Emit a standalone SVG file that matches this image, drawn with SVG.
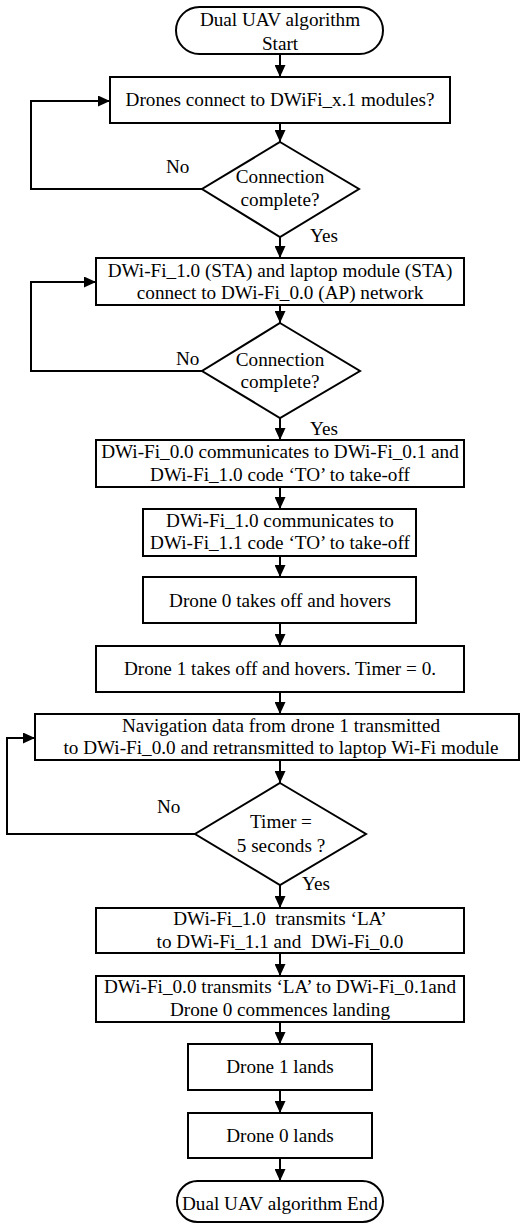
<svg xmlns="http://www.w3.org/2000/svg" width="520" height="1224" viewBox="0 0 520 1224">
<style>
.s{fill:#fff;stroke:#000;stroke-width:2}
.t{font-family:"Liberation Serif","Times New Roman",serif;font-size:19.2px;fill:#000;text-anchor:middle;white-space:pre}
.l{font-family:"Liberation Serif","Times New Roman",serif;font-size:19.2px;fill:#000}
.c{fill:none;stroke:#000;stroke-width:2}
</style>
<defs>
<marker id="ah" markerWidth="12" markerHeight="11" refX="12" refY="5.5" orient="auto" markerUnits="userSpaceOnUse"><path d="M0,0 L12,5.5 L0,11 z" fill="#000"/></marker>
</defs>
<g id="connectors">
<path class="c" marker-end="url(#ah)" d="M280,54 V77"/>
<path class="c" marker-end="url(#ah)" d="M280,123 V142"/>
<path class="c" marker-end="url(#ah)" d="M202,189 H31 V101 H110"/>
<path class="c" marker-end="url(#ah)" d="M280,237 V258"/>
<path class="c" marker-end="url(#ah)" d="M280,305 V323"/>
<path class="c" marker-end="url(#ah)" d="M202,371 H31 V282 H96"/>
<path class="c" marker-end="url(#ah)" d="M280,418 V440"/>
<path class="c" marker-end="url(#ah)" d="M280,487 V509"/>
<path class="c" marker-end="url(#ah)" d="M280,556 V577"/>
<path class="c" marker-end="url(#ah)" d="M280,623 V646"/>
<path class="c" marker-end="url(#ah)" d="M280,692 V714"/>
<path class="c" marker-end="url(#ah)" d="M280,760 V783"/>
<path class="c" marker-end="url(#ah)" d="M195,834 H7 V738 H35"/>
<path class="c" marker-end="url(#ah)" d="M280,885 V908"/>
<path class="c" marker-end="url(#ah)" d="M280,953 V976"/>
<path class="c" marker-end="url(#ah)" d="M280,1022 V1044"/>
<path class="c" marker-end="url(#ah)" d="M280,1090 V1113"/>
<path class="c" marker-end="url(#ah)" d="M280,1158 V1181"/>
<text class="l" x="166" y="173">No</text>
<text class="l" x="310" y="242">Yes</text>
<text class="l" x="176" y="365">No</text>
<text class="l" x="310" y="435">Yes</text>
<text class="l" x="157" y="813">No</text>
<text class="l" x="302" y="890">Yes</text>
</g>
<g id="start"><rect class="s" x="176" y="7" width="207" height="47" rx="23.5"/><text class="t" x="280" y="26">Dual UAV algorithm</text><text class="t" x="280" y="50">Start</text></g>
<g id="box1"><rect class="s" x="110" y="77" width="340" height="46"/><text class="t" x="280" y="106">Drones connect to DWiFi_x.1 modules?</text></g>
<g id="dec1"><polygon class="s" points="280,142 359,189 280,237 202,189"/><text class="t" x="280" y="183">Connection</text><text class="t" x="280" y="206">complete?</text></g>
<g id="box2"><rect class="s" x="96" y="258" width="368" height="47"/><text class="t" x="280" y="277">DWi-Fi_1.0 (STA) and laptop module (STA)</text><text class="t" x="280" y="299">connect to DWi-Fi_0.0 (AP) network</text></g>
<g id="dec2"><polygon class="s" points="280,323 360,371 280,418 202,371"/><text class="t" x="280" y="366">Connection</text><text class="t" x="280" y="388">complete?</text></g>
<g id="box3"><rect class="s" x="96" y="440" width="368" height="47"/><text class="t" x="280" y="458">DWi-Fi_0.0 communicates to DWi-Fi_0.1 and</text><text class="t" x="280" y="481">DWi-Fi_1.0 code ‘TO’ to take-off</text></g>
<g id="box4"><rect class="s" x="143" y="509" width="273" height="47"/><text class="t" x="280" y="527">DWi-Fi_1.0 communicates to</text><text class="t" x="280" y="549">DWi-Fi_1.1 code ‘TO’ to take-off</text></g>
<g id="box5"><rect class="s" x="143" y="577" width="273" height="46"/><text class="t" x="280" y="607">Drone 0 takes off and hovers</text></g>
<g id="box6"><rect class="s" x="96" y="646" width="368" height="46"/><text class="t" x="280" y="675">Drone 1 takes off and hovers. Timer = 0.</text></g>
<g id="box7"><rect class="s" x="35" y="714" width="484" height="46"/><text class="t" x="281" y="732">Navigation data from drone 1 transmitted</text><text class="t" x="281" y="754">to DWi-Fi_0.0 and retransmitted to laptop Wi-Fi module</text></g>
<g id="dec3"><polygon class="s" points="280,783 366,834 280,885 195,834"/><text class="t" x="281" y="828">Timer =</text><text class="t" x="281" y="852">5 seconds ?</text></g>
<g id="box8"><rect class="s" x="96" y="908" width="368" height="45"/><text class="t" x="280" y="925">DWi-Fi_1.0  transmits ‘LA’</text><text class="t" x="280" y="948">to DWi-Fi_1.1 and  DWi-Fi_0.0</text></g>
<g id="box9"><rect class="s" x="96" y="976" width="368" height="46"/><text class="t" x="280" y="993">DWi-Fi_0.0 transmits ‘LA’ to DWi-Fi_0.1and</text><text class="t" x="280" y="1016">Drone 0 commences landing</text></g>
<g id="box10"><rect class="s" x="188" y="1044" width="184" height="46"/><text class="t" x="280" y="1073">Drone 1 lands</text></g>
<g id="box11"><rect class="s" x="188" y="1113" width="184" height="45"/><text class="t" x="280" y="1142">Drone 0 lands</text></g>
<g id="end"><rect class="s" x="177" y="1181" width="206" height="41" rx="20.5"/><text class="t" x="280" y="1210">Dual UAV algorithm End</text></g>
</svg>
